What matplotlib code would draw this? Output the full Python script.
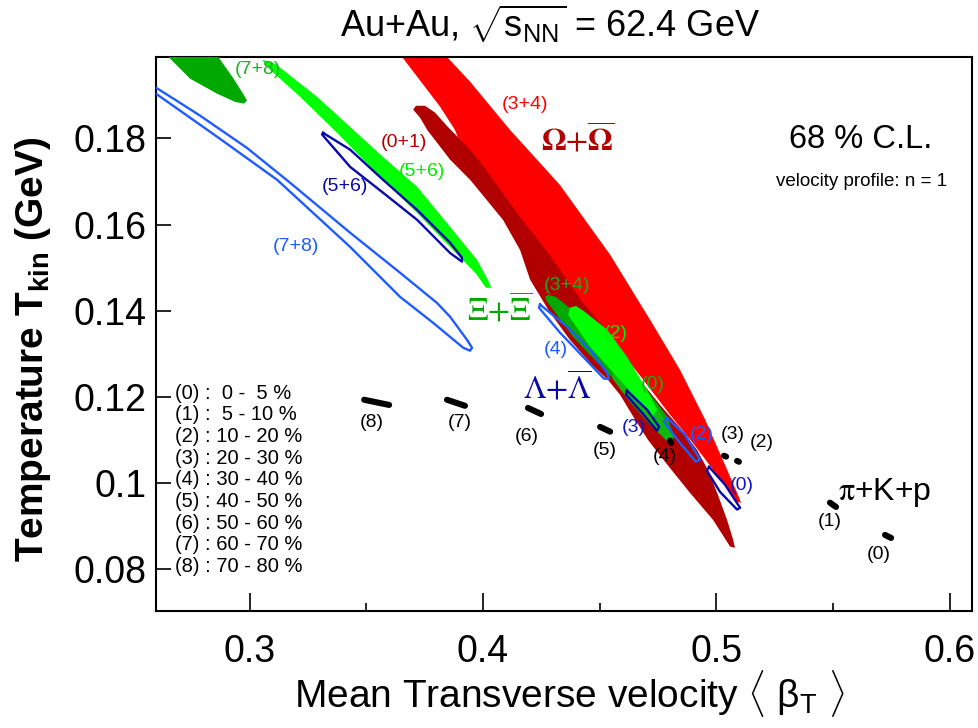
import numpy as np
import matplotlib
matplotlib.use("Agg")
import matplotlib.pyplot as plt

plt.rcParams['font.family'] = ['Liberation Sans', 'DejaVu Sans']
plt.rcParams['mathtext.fontset'] = 'custom'
plt.rcParams['mathtext.rm'] = 'Liberation Sans'
plt.rcParams['mathtext.it'] = 'Liberation Sans:italic'
plt.rcParams['mathtext.bf'] = 'Liberation Sans:bold'

# 68% C.L. contours: (<beta_T>, T_kin) outline points
# Omega+anti-Omega
om34_x = [0.3778, 0.3945, 0.4116, 0.4330, 0.4545, 0.4716, 0.4844, 0.4952, 0.5037, 0.5089, 0.5106,
          0.5084, 0.5042, 0.4973, 0.4909, 0.4802, 0.4673, 0.4545, 0.4416, 0.4266, 0.4116, 0.3966,
          0.3910, 0.3880, 0.3816, 0.3709, 0.3598]
om34_y = [0.2029, 0.1932, 0.1820, 0.1692, 0.1530, 0.1379, 0.1263, 0.1147, 0.1042, 0.0977, 0.0954,
          0.0956, 0.0991, 0.1040, 0.1086, 0.1158, 0.1249, 0.1337, 0.1425, 0.1530, 0.1634, 0.1739,
          0.1778, 0.1820, 0.1874, 0.1950, 0.2029]
om01_x = [0.3713, 0.3752, 0.3795, 0.3846, 0.3945, 0.4000, 0.4146, 0.4288, 0.4429, 0.4527,
          0.4596, 0.4673, 0.4759, 0.4844, 0.4917, 0.4964, 0.5007, 0.5046, 0.5072, 0.5080,
          0.5059, 0.4986, 0.4887, 0.4780, 0.4707, 0.4652, 0.4587, 0.4536, 0.4467, 0.4373,
          0.4288, 0.4202, 0.4159, 0.4086, 0.3945, 0.3859, 0.3761, 0.3731, 0.3701]
om01_y = [0.1876, 0.1876, 0.1860, 0.1829, 0.1774, 0.1737, 0.1627, 0.1528, 0.1418, 0.1356,
          0.1298, 0.1239, 0.1181, 0.1128, 0.1077, 0.1030, 0.0972, 0.0914, 0.0868, 0.0849,
          0.0852, 0.0914, 0.0977, 0.1049, 0.1100, 0.1147, 0.1205, 0.1239, 0.1274, 0.1332,
          0.1395, 0.1472, 0.1541, 0.1611, 0.1704, 0.1751, 0.1820, 0.1848, 0.1867]

# Xi+anti-Xi
xi78_x = [0.2578, 0.2814, 0.2865, 0.2929, 0.2972, 0.2989, 0.2976, 0.2938, 0.2861, 0.2745, 0.2651]
xi78_y = [0.2029, 0.2029, 0.1990, 0.1941, 0.1904, 0.1888, 0.1881, 0.1885, 0.1904, 0.1939, 0.1990]
xi56_x = [0.3054, 0.3109, 0.3289, 0.3431, 0.3572, 0.3718, 0.3859, 0.3975, 0.4026, 0.4035,
          0.4013, 0.3970, 0.3859, 0.3718, 0.3572, 0.3375, 0.3216, 0.3079]
xi56_y = [0.1983, 0.1974, 0.1897, 0.1827, 0.1757, 0.1688, 0.1595, 0.1518, 0.1467, 0.1453,
          0.1453, 0.1486, 0.1548, 0.1627, 0.1704, 0.1813, 0.1897, 0.1964]
xi34_x = [0.4279, 0.4313, 0.4416, 0.4575, 0.4703, 0.4789, 0.4819, 0.4810,
          0.4789, 0.4673, 0.4532, 0.4386, 0.4275, 0.4266]
xi34_y = [0.1437, 0.1432, 0.1386, 0.1293, 0.1216, 0.1154, 0.1107, 0.1095,
          0.1116, 0.1186, 0.1256, 0.1339, 0.1421, 0.1432]
xi2_x = [0.4373, 0.4365, 0.4459, 0.4575, 0.4703, 0.4729, 0.4746, 0.4703, 0.4617, 0.4532, 0.4437, 0.4399]
xi2_y = [0.1407, 0.1390, 0.1316, 0.1246, 0.1170, 0.1154, 0.1170, 0.1216, 0.1293, 0.1356, 0.1397, 0.1411]
xi0_x = [0.4566, 0.4673, 0.4759, 0.4810, 0.4819, 0.4793, 0.4716, 0.4622, 0.4553]
xi0_y = [0.1267, 0.1216, 0.1165, 0.1112, 0.1091, 0.1095, 0.1135, 0.1193, 0.1244]

# Lambda+anti-Lambda (outlines)
la78_x = [0.2574, 0.2599, 0.2681, 0.2788, 0.2989, 0.3174, 0.3431, 0.3645, 0.3803, 0.3859, 0.3932,
          0.3953, 0.3945, 0.3915, 0.3786, 0.3645, 0.3431, 0.3118, 0.2861, 0.2599, 0.2574]
la78_y = [0.1922, 0.1918, 0.1890, 0.1853, 0.1778, 0.1697, 0.1581, 0.1488, 0.1418, 0.1386, 0.1332,
          0.1314, 0.1307, 0.1314, 0.1372, 0.1432, 0.1548, 0.1704, 0.1804, 0.1904, 0.1913]
la56_x = [0.3315, 0.3431, 0.3572, 0.3718, 0.3859, 0.3910, 0.3910, 0.3859, 0.3718, 0.3572, 0.3431, 0.3311]
la56_y = [0.1813, 0.1774, 0.1704, 0.1634, 0.1558, 0.1523, 0.1514, 0.1534, 0.1611, 0.1674, 0.1734, 0.1809]
la4_x = [0.4245, 0.4360, 0.4459, 0.4532, 0.4540, 0.4519, 0.4429, 0.4330, 0.4240]
la4_y = [0.1414, 0.1363, 0.1309, 0.1256, 0.1242, 0.1242, 0.1293, 0.1349, 0.1407]
la3_x = [0.4617, 0.4703, 0.4755, 0.4746, 0.4686, 0.4613]
la3_y = [0.1214, 0.1170, 0.1130, 0.1121, 0.1160, 0.1205]
la2_x = [0.4789, 0.4866, 0.4930, 0.4913, 0.4844, 0.4776]
la2_y = [0.1151, 0.1112, 0.1054, 0.1049, 0.1093, 0.1142]
la0_x = [0.4969, 0.5037, 0.5102, 0.5089, 0.5016, 0.4960]
la0_y = [0.1037, 0.0996, 0.0942, 0.0938, 0.0979, 0.1028]

# pi+K+p: small contours, one short stroke per centrality bin (0)...(8)
pkp_x1 = [0.5723, 0.5487, 0.5089, 0.5033, 0.4802, 0.4502, 0.4193, 0.3846, 0.3491]
pkp_y1 = [0.0879, 0.0954, 0.1051, 0.1063, 0.1098, 0.1130, 0.1174, 0.1193, 0.1193]
pkp_x2 = [0.5749, 0.5513, 0.5097, 0.5042, 0.4806, 0.4545, 0.4249, 0.3923, 0.3598]
pkp_y2 = [0.0872, 0.0944, 0.1049, 0.1061, 0.1093, 0.1119, 0.1160, 0.1179, 0.1181]

centrality = ["(0) :  0 -  5 %", "(1) :  5 - 10 %", "(2) : 10 - 20 %", "(3) : 20 - 30 %",
              "(4) : 30 - 40 %", "(5) : 40 - 50 %", "(6) : 50 - 60 %", "(7) : 60 - 70 %",
              "(8) : 70 - 80 %"]

RED = '#ff0000'
DRED = '#b00000'
DGREEN = '#00a800'
LGREEN = '#00ff00'
LBLUE = '#1f5cff'
DBLUE = '#0808a8'

fig = plt.figure(figsize=(9.79, 7.28), dpi=100)
ax = fig.add_axes([0.15935, 0.16113, 0.83381, 0.76099])

ax.fill(om34_x, om34_y, color=RED, lw=0, zorder=1)
ax.fill(om01_x, om01_y, color=DRED, lw=0, zorder=2)
ax.fill(xi78_x, xi78_y, color=DGREEN, lw=0, zorder=3)
ax.fill(xi56_x, xi56_y, color=LGREEN, lw=0, zorder=3)
ax.fill(xi34_x, xi34_y, color=DGREEN, lw=0, zorder=3)
ax.fill(xi0_x, xi0_y, color='#10b810', lw=0, zorder=3.5)
ax.fill(xi2_x, xi2_y, color=LGREEN, lw=0, zorder=4)

for xs, ys, c in [(la78_x, la78_y, LBLUE), (la56_x, la56_y, DBLUE), (la4_x, la4_y, LBLUE),
                  (la3_x, la3_y, DBLUE), (la2_x, la2_y, LBLUE), (la0_x, la0_y, DBLUE)]:
    ax.plot(xs + xs[:1], ys + ys[:1], color=c, lw=1.7, zorder=5, solid_joinstyle='round')

for i in range(len(pkp_x1)):
    ax.plot([pkp_x1[i], pkp_x2[i]], [pkp_y1[i], pkp_y2[i]], color='black', lw=4.4,
            solid_capstyle='round', zorder=6)

# contour labels
labels = [
    ("(7+8)", 0.3036, 0.1960, '#20b020'),
    ("(3+4)", 0.4180, 0.1878, RED),
    ("(0+1)", 0.3662, 0.1790, DRED),
    ("(5+6)", 0.3739, 0.1723, '#00ee00'),
    ("(5+6)", 0.3409, 0.1688, DBLUE),
    ("(7+8)", 0.3199, 0.1548, LBLUE),
    ("(3+4)", 0.4360, 0.1458, '#20a820'),
    ("(2)", 0.4570, 0.1346, '#00ee00'),
    ("(4)", 0.4313, 0.1309, LBLUE),
    ("(0)", 0.4729, 0.1228, '#10b010'),
    ("(3)", 0.4647, 0.1128, '#1414c0'),
    ("(2)", 0.4939, 0.1112, LBLUE),
    ("(0)", 0.5110, 0.0993, '#1414c0'),
    ("(3)", 0.5072, 0.1112, 'black'),
    ("(2)", 0.5196, 0.1093, 'black'),
    ("(4)", 0.4780, 0.1061, 'black'),
    ("(5)", 0.4523, 0.1075, 'black'),
    ("(6)", 0.4189, 0.1107, 'black'),
    ("(7)", 0.3902, 0.1140, 'black'),
    ("(8)", 0.3525, 0.1140, 'black'),
    ("(1)", 0.5487, 0.0910, 'black'),
    ("(0)", 0.5697, 0.0833, 'black'),
]
for txt, x, y, c in labels:
    ax.text(x, y, txt, color=c, fontsize=14, ha='center', va='center', zorder=7)

ax.text(0.4407, 0.1797, r"$\mathbf{\Omega}{+}\overline{\mathbf{\Omega}}$", color=DRED, fontsize=23,
        math_fontfamily='stix', ha='center', va='center', zorder=7)
ax.text(0.4073, 0.1402, r"$\Xi{+}\overline{\Xi}$", color=DGREEN, fontsize=23,
        math_fontfamily='stix', ha='center', va='center', zorder=7)
ax.text(0.4318, 0.1221, r"$\Lambda{+}\overline{\Lambda}$", color=DBLUE, fontsize=23,
        math_fontfamily='stix', ha='center', va='center', zorder=7)
ax.text(0.5723, 0.0977, r"$\mathrm{\pi}$+K+p", color='black', fontsize=23,
        math_fontfamily='stix', ha='center', va='center', zorder=7)

ax.set_xlim(0.2599, 0.6097)
ax.set_ylim(0.0703, 0.1990)
ax.set_xticks([0.3, 0.4, 0.5, 0.6])
ax.set_xticklabels(["0.3", "0.4", "0.5", "0.6"])
ax.set_xticks([0.35, 0.45, 0.55], minor=True)
ax.set_yticks([0.08, 0.10, 0.12, 0.14, 0.16, 0.18])
ax.set_yticklabels(["0.08", "0.1", "0.12", "0.14", "0.16", "0.18"])
ax.tick_params(axis='x', which='major', direction='in', length=13, width=1.2, labelsize=27, pad=17)
ax.tick_params(axis='x', which='minor', direction='in', length=6, width=1.2)
ax.tick_params(axis='y', which='major', direction='in', length=11, width=1.2, labelsize=27, pad=7)
for s in ax.spines.values():
    s.set_linewidth(1.5)

fig.text(0.5618, 0.967, r"Au+Au, $\sqrt{\mathrm{s}_{\mathrm{NN}}}$ = 62.4 GeV", fontsize=26,
         ha='center', va='center')
fig.text(0.581, 1 - 707 / 728,
         r"Mean Transverse velocity $\langle\ \mathrm{\beta}_{\mathrm{T}}\ \rangle$",
         fontsize=28, ha='center', va='baseline')
fig.text(0.034, 1 - 349 / 728, r"Temperature T$_{\mathbf{kin}}$ (GeV)", fontsize=28,
         fontweight='bold', rotation=90, ha='center', va='center')

fig.text(0.8795, 0.8077, "68 % C.L.", fontsize=23.5, ha='center', va='center')
fig.text(0.8805, 0.750, "velocity profile: n = 1", fontsize=13.5, ha='center', va='center')

for i, line in enumerate(centrality):
    fig.text(175 / 979, 1 - (393.3 + i * 21.67) / 728, line, fontsize=14.5, ha='left', va='center')

fig.savefig("out.png", dpi=100)
